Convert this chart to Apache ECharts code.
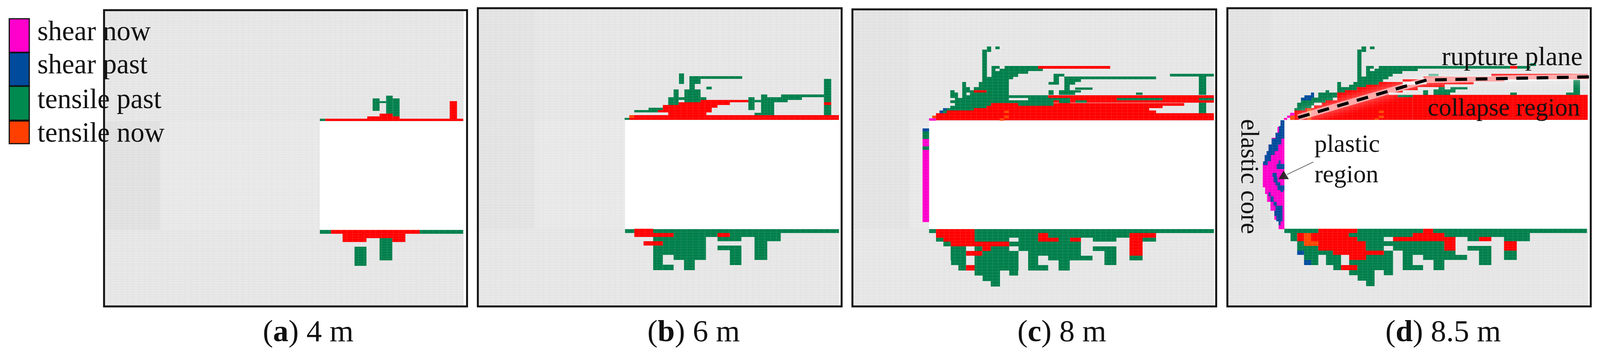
<!DOCTYPE html>
<html>
<head>
<meta charset="utf-8">
<title>failure zones</title>
<style>
  html, body { margin: 0; padding: 0; background: #fff; overflow: hidden; }
  #chart { width: 100%; height: 912px; }
</style>
<script src="https://cdn.jsdelivr.net/npm/echarts@6/dist/echarts.min.js"></script>
</head>
<body>
<div id="chart"></div>
<script>
// every rect is [x0, x1, y0, y1] on the sheet scale used by the axes below
const legendNames = ['shear now', 'shear past', 'tensile past', 'tensile now']
const captions = [['a', '4 m'], ['b', '6 m'], ['c', '8 m'], ['d', '8.5 m']]

// (a) 4 m
const aOpening = [[830, 1212, 311, 589], [1203, 1212, 26, 785]]
const aCoal = [[272, 416, 311, 589]]
const aRoof = [[416, 830, 311, 589]]
const aTensilePast = [
  [967, 985, 252, 284], [985, 1002, 259, 264], [1002, 1019, 245, 291], [1019, 1037, 252, 298],
  [830, 844, 304, 310],
  [830, 859, 589, 599], [1089, 1202, 589, 599], [985, 1018, 610, 667], [920, 951, 632, 681]
]
const aTensileNow = [
  [844, 1202, 304, 310], [953, 985, 298, 304], [985, 1019, 291, 304], [1019, 1037, 298, 304],
  [1167, 1186, 259, 304],
  [859, 1089, 589, 599], [889, 1052, 599, 610], [889, 951, 610, 620], [1018, 1052, 610, 620]
]

// (b) 6 m
const bOpening = [[1622, 2184, 308, 586], [2177, 2184, 21, 785]]
const bCoal = [[1243, 1388, 21, 586]]
const bRoof = [[1388, 1622, 308, 586]]
const bTensilePast = [
  [1762, 1775, 188, 215], [1789, 1818, 195, 215], [1818, 1926, 195, 202], [1789, 1803, 215, 229],
  [1833, 1847, 222, 229], [1776, 1818, 229, 262], [1748, 1761, 229, 269], [1734, 1748, 249, 269],
  [1761, 1776, 249, 256], [1818, 1833, 249, 256], [1683, 1720, 276, 282], [1646, 1707, 282, 288],
  [1621, 1633, 302, 307], [1942, 1958, 249, 282], [1958, 1975, 256, 262], [1975, 1991, 242, 295],
  [1991, 2009, 249, 295], [1958, 1975, 289, 295], [2009, 2044, 249, 262], [2027, 2081, 242, 256],
  [2081, 2138, 242, 249], [2138, 2157, 202, 262], [2138, 2157, 269, 295],
  [1622, 1646, 587, 597], [1695, 2177, 587, 597], [1748, 1862, 597, 607], [1894, 2026, 597, 607],
  [1695, 1832, 607, 618], [1862, 1924, 607, 618], [1958, 2026, 607, 618], [1720, 1832, 618, 629],
  [1695, 1832, 629, 653], [1748, 1832, 653, 666], [1695, 1720, 653, 692], [1720, 1748, 678, 692],
  [1775, 1803, 666, 692], [1862, 1924, 629, 641], [1894, 1924, 641, 679], [1958, 1991, 618, 666]
]
const bTensileNow = [
  [2138, 2157, 262, 269], [1633, 2177, 295, 307], [1734, 1833, 288, 295], [1707, 1847, 282, 288],
  [1720, 1862, 269, 276], [1720, 1847, 276, 282], [1761, 1894, 262, 269], [1818, 1942, 256, 262],
  [1646, 1695, 586, 607], [1695, 1748, 597, 607], [1862, 1894, 597, 607], [1670, 1720, 618, 629]
]
const bTensileNowOld = [[1633, 1646, 295, 302]]

// (c) 8 m
const cOpening = [[2411, 3156, 310, 586], [3150, 3156, 24, 785]]
const cCoal = [[2214, 2361, 24, 586]]
const cRoof = [[2361, 2411, 310, 586]]
const cShearNow = [[2411, 2429, 303, 309], [2394, 2411, 356, 375], [2394, 2411, 384, 569]]
const cShearPast = [[2447, 2457, 277, 283], [2438, 2447, 283, 290], [2394, 2411, 329, 337]]
const cTensilePast = [
  [2583, 2594, 119, 126], [2561, 2572, 119, 133], [2549, 2561, 127, 197], [2573, 2594, 169, 176],
  [2573, 2583, 176, 182], [2594, 2706, 176, 182], [2607, 2694, 169, 176], [2573, 2668, 182, 189],
  [2573, 2642, 189, 197], [2549, 2629, 197, 203], [2549, 2618, 203, 210], [2540, 2618, 210, 223],
  [2527, 2618, 223, 231], [2497, 2507, 210, 223], [2497, 2517, 223, 231], [2497, 2527, 231, 237],
  [2560, 2618, 231, 237], [2466, 2477, 231, 237], [2466, 2486, 237, 244], [2497, 2508, 237, 244],
  [2517, 2618, 237, 244], [2466, 2486, 244, 251], [2497, 2720, 244, 251], [2478, 2618, 251, 257],
  [2668, 2777, 251, 257], [2466, 2734, 257, 264], [2748, 2777, 257, 264], [2478, 2572, 264, 271],
  [2642, 2734, 264, 271], [2466, 2560, 271, 277], [2457, 2527, 277, 283], [2447, 2457, 283, 290],
  [2734, 2762, 189, 196], [2734, 2748, 196, 210], [2721, 2748, 210, 217], [2762, 3000, 196, 203],
  [2762, 2805, 203, 210], [2762, 2790, 210, 217], [2762, 2776, 217, 231], [2790, 2835, 224, 230],
  [2748, 2805, 231, 237], [2748, 2790, 237, 243], [2721, 2734, 231, 243], [2948, 2965, 237, 243],
  [3036, 3150, 189, 196], [3111, 3130, 196, 243], [3111, 3130, 263, 290], [2898, 3017, 251, 257],
  [3111, 3150, 251, 257], [2791, 2820, 257, 263], [2394, 2411, 337, 356], [2394, 2411, 375, 384],
  [2411, 2429, 587, 597], [2529, 3150, 587, 597],
  [2529, 2694, 597, 609], [2720, 2931, 597, 609],
  [2429, 2448, 609, 619], [2529, 2619, 609, 619], [2643, 2694, 609, 619], [2747, 2777, 609, 619],
  [2836, 2897, 609, 619], [2965, 3000, 609, 619],
  [2448, 2467, 619, 631], [2619, 2805, 619, 631],
  [2467, 2507, 631, 643], [2529, 2549, 631, 643], [2571, 2619, 631, 643], [2643, 2805, 631, 643],
  [2836, 2897, 631, 643],
  [2467, 2507, 643, 655], [2549, 2643, 643, 655], [2668, 2805, 643, 655], [2866, 2897, 643, 655],
  [2467, 2507, 655, 667], [2529, 2643, 655, 667], [2668, 2694, 655, 667], [2720, 2835, 655, 667],
  [2866, 2897, 655, 667], [2931, 2965, 655, 667],
  [2468, 2507, 667, 679], [2529, 2643, 667, 679], [2668, 2694, 667, 679], [2747, 2776, 667, 679],
  [2866, 2897, 667, 679],
  [2487, 2507, 679, 693], [2529, 2643, 679, 693], [2668, 2720, 679, 693], [2747, 2776, 679, 693],
  [2529, 2595, 693, 706], [2619, 2642, 693, 706], [2550, 2595, 706, 720], [2571, 2595, 720, 734]
]
const cTensileNow = [
  [2694, 2881, 169, 176], [2527, 2560, 231, 237], [2720, 3150, 244, 251], [2777, 2898, 251, 257],
  [3017, 3111, 251, 257], [2734, 2748, 257, 263], [2777, 2791, 257, 263], [2820, 3150, 257, 263],
  [2572, 2642, 264, 271], [2734, 3073, 264, 271], [2560, 3017, 271, 277], [2527, 2982, 277, 283],
  [2457, 3000, 283, 290], [2429, 3150, 290, 308],
  [2429, 2529, 587, 597], [2429, 2529, 597, 609], [2694, 2720, 597, 609], [2931, 3000, 597, 609],
  [2448, 2529, 609, 619], [2694, 2747, 609, 619], [2777, 2805, 609, 619], [2931, 2965, 609, 619],
  [2467, 2619, 619, 631], [2931, 2965, 619, 631], [2549, 2571, 631, 643], [2931, 2965, 631, 643],
  [2507, 2549, 643, 655], [2931, 2965, 643, 655], [2507, 2529, 679, 693]
]
const cTensileNowOld = [[2419, 2429, 296, 303], [2606, 2618, 283, 290], [2606, 2618, 296, 303], [2594, 2606, 303, 309]]

// (d) 8.5 m
const dOpening = [[3332, 4128, 308, 586], [4121, 4128, 21, 785]]
const dCoal = [[3188, 3300, 21, 586]]
const dRoof = [[3300, 3332, 308, 586]]
const dShearNow = [
  [3348, 3359, 289, 296], [3340, 3348, 296, 302], [3332, 3340, 302, 307],
  [3323, 3333, 308, 325], [3315, 3333, 325, 340], [3310, 3333, 340, 353], [3300, 3333, 353, 370],
  [3292, 3333, 370, 387], [3287, 3333, 387, 397], [3282, 3333, 397, 417], [3277, 3333, 417, 480],
  [3283, 3333, 480, 497], [3288, 3333, 497, 517], [3297, 3333, 517, 540], [3307, 3333, 540, 563],
  [3318, 3333, 563, 587]
]
const dShearPast = [
  [3402, 3410, 237, 244], [3385, 3410, 244, 250], [3376, 3403, 250, 257],
  [3323, 3333, 308, 323], [3319, 3333, 323, 340], [3310, 3333, 340, 355], [3300, 3325, 355, 370],
  [3292, 3317, 370, 387], [3287, 3308, 387, 397], [3282, 3298, 397, 413], [3278, 3290, 413, 423],
  [3318, 3323, 411, 420], [3313, 3333, 420, 433], [3302, 3313, 443, 453], [3305, 3315, 453, 467],
  [3310, 3322, 467, 475], [3315, 3333, 475, 487], [3323, 3330, 487, 492], [3292, 3297, 493, 503],
  [3297, 3305, 503, 517], [3305, 3313, 517, 527], [3310, 3328, 527, 547], [3307, 3328, 540, 553],
  [3312, 3328, 553, 567], [3318, 3323, 567, 577],
  [3366, 3384, 642, 653], [3384, 3402, 666, 679]
]
const dTensilePast = [
  [3555, 3567, 119, 126], [3533, 3545, 119, 133], [3522, 3533, 127, 197], [3545, 3565, 169, 176],
  [3578, 3919, 169, 176], [3937, 3971, 169, 176], [3971, 3986, 162, 169], [3545, 3555, 176, 182],
  [3567, 3679, 176, 182], [3545, 3639, 182, 189], [3545, 3614, 189, 196], [3522, 3603, 196, 203],
  [3522, 3589, 203, 210], [3470, 3480, 210, 223], [3512, 3578, 210, 217], [3501, 3545, 217, 223],
  [3470, 3521, 223, 231], [3440, 3449, 231, 237], [3470, 3490, 231, 237], [3421, 3470, 237, 250],
  [3403, 3459, 250, 257], [3376, 3440, 257, 263], [3366, 3410, 263, 270], [3366, 3403, 270, 277],
  [3359, 3387, 277, 283], [3764, 3808, 223, 229], [3733, 3749, 223, 229], [3720, 3777, 229, 237],
  [3693, 3706, 231, 243], [3720, 3763, 237, 243], [3919, 3936, 237, 243], [4064, 4100, 237, 243],
  [4083, 4100, 204, 237], [3627, 3666, 243, 249],
  [3333, 3421, 586, 597], [3522, 3693, 586, 597], [3719, 4118, 586, 597],
  [3349, 3366, 597, 607], [3500, 3666, 597, 607], [3748, 3970, 597, 607],
  [3349, 3366, 607, 618], [3522, 3591, 607, 618], [3808, 3838, 607, 618], [3903, 3970, 607, 618],
  [3366, 3384, 618, 630], [3544, 3748, 618, 630],
  [3366, 3421, 630, 642], [3544, 3591, 630, 642], [3615, 3748, 630, 642], [3808, 3870, 630, 642],
  [3384, 3459, 642, 653], [3591, 3615, 642, 653], [3640, 3777, 642, 653], [3838, 3870, 642, 653],
  [3903, 3936, 642, 653],
  [3384, 3421, 653, 666], [3441, 3480, 653, 666], [3545, 3615, 653, 666], [3640, 3666, 653, 666],
  [3693, 3807, 653, 666], [3838, 3870, 653, 666], [3903, 3936, 653, 666],
  [3402, 3421, 666, 679], [3441, 3480, 666, 679], [3501, 3615, 666, 679], [3640, 3666, 666, 679],
  [3720, 3748, 666, 679], [3838, 3870, 666, 679],
  [3460, 3480, 679, 692], [3522, 3615, 679, 692], [3640, 3693, 679, 692], [3720, 3748, 679, 692],
  [3501, 3567, 692, 705], [3591, 3615, 692, 705], [3523, 3567, 705, 719], [3545, 3567, 719, 733]
]
const dTensileNow = [
  [3919, 3937, 169, 176], [3870, 4121, 189, 196], [3694, 4121, 196, 203], [3640, 3904, 203, 209],
  [3702, 3824, 209, 216], [3679, 3749, 216, 223], [3578, 3640, 210, 217], [3545, 3679, 217, 223],
  [3521, 3679, 223, 231], [3490, 3640, 231, 237], [3470, 3604, 237, 243], [3470, 3627, 243, 257],
  [3627, 3666, 249, 257], [3440, 3666, 257, 263], [3430, 3666, 263, 270], [3410, 3666, 270, 277],
  [3387, 3666, 277, 283], [3359, 3666, 283, 307], [3666, 4120, 243, 307],
  [3421, 3522, 586, 597], [3693, 3719, 586, 597],
  [3366, 3384, 597, 607], [3402, 3500, 597, 607], [3666, 3748, 597, 607],
  [3366, 3384, 607, 618], [3402, 3522, 607, 618], [3615, 3777, 607, 618], [3838, 3870, 607, 618],
  [3421, 3544, 618, 630], [3748, 3777, 618, 630], [3903, 3936, 618, 630],
  [3421, 3544, 630, 642], [3748, 3777, 630, 642], [3903, 3936, 630, 642],
  [3459, 3591, 642, 653], [3501, 3545, 653, 666], [3480, 3522, 679, 692]
]
const dTensileNowOld = [
  [3384, 3402, 597, 618], [3384, 3421, 618, 630], [3392, 3403, 277, 307], [3348, 3359, 296, 307],
  [3578, 3591, 283, 290], [3578, 3591, 296, 303], [3567, 3578, 303, 307]
]
const dFaded = [[3707, 3733, 189, 195]]
const ruptureX = [3369, 3702, 4126]
const ruptureY = [301, 205, 197]
const pointerX = [3408, 3340]
const pointerY = [415, 447]

const C_SHEAR_NOW = '#ff00cc'
const C_SHEAR_PAST = '#004b9c'
const C_TENSILE_PAST = '#007f4b'
const C_TENSILE_NOW = '#ff0000'
const C_TENSILE_OLD = '#ff4500'
const SERIF = '"Liberation Serif", "Times New Roman", serif'

// the browser may cap the window below 4152, so the sheet is fitted to what it really gives
const sx = document.getElementById('chart').clientWidth / 4152

const panels = [
  { left: 270, top: 26, width: 942, height: 759, stepX: 15, stepY: 6.5 },
  { left: 1240, top: 21, width: 944, height: 764, stepX: 15.5, stepY: 7 },
  { left: 2212, top: 24, width: 944, height: 761, stepX: 14, stepY: 8 },
  { left: 3185, top: 21, width: 943, height: 764, stepX: 13, stepY: 7 }
]

const grid = panels.map(p => ({
  left: p.left * sx,
  top: p.top,
  width: p.width * sx,
  height: p.height,
  show: true,
  backgroundColor: '#e8e8e8',
  borderWidth: 0
}))

const hidden = { axisLine: { show: false }, axisTick: { show: false }, axisLabel: { show: false } }
const xAxis = panels.map((p, i) => ({
  type: 'value',
  gridIndex: i,
  min: p.left,
  max: p.left + p.width,
  interval: p.stepX,
  ...hidden,
  splitLine: { show: true, lineStyle: { color: '#e0e0e0', width: 1 } }
}))
const yAxis = panels.map((p, i) => ({
  type: 'value',
  gridIndex: i,
  inverse: true,
  min: p.top,
  max: p.top + p.height,
  interval: p.stepY,
  ...hidden,
  splitLine: { show: true, lineStyle: { color: '#e0e0e0', width: 1 } }
}))

// one custom series per state, the mesh is drawn faintly over the coloured zones
function zones(name, rows, color, i, meshed) {
  const p = panels[i]
  return {
    name: name,
    type: 'custom',
    xAxisIndex: i,
    yAxisIndex: i,
    silent: true,
    animation: false,
    encode: { x: [0, 1], y: [2, 3] },
    data: rows,
    renderItem: function (params, api) {
      const x0 = api.value(0), x1 = api.value(1), y0 = api.value(2), y1 = api.value(3)
      const a = api.coord([x0, y0])
      const b = api.coord([x1, y1])
      const children = [{
        type: 'rect',
        shape: { x: a[0], y: a[1], width: b[0] - a[0], height: b[1] - a[1] },
        style: { fill: color }
      }]
      if (meshed) {
        const lineStyle = { stroke: 'rgba(255,255,255,0.13)', lineWidth: 1 }
        for (let k = Math.ceil(x0 / p.stepX) * p.stepX; k < x1; k += p.stepX) {
          const c = api.coord([k, y0])[0]
          children.push({ type: 'line', shape: { x1: c, y1: a[1], x2: c, y2: b[1] }, style: lineStyle })
        }
        for (let k = Math.ceil(y0 / p.stepY) * p.stepY; k < y1; k += p.stepY) {
          const c = api.coord([x0, k])[1]
          children.push({ type: 'line', shape: { x1: a[0], y1: c, x2: b[0], y2: c }, style: lineStyle })
        }
      }
      return { type: 'group', children: children }
    }
  }
}

const series = [
  zones('coal', aCoal, 'rgba(0,0,0,0.018)', 0), zones('roof', aRoof, 'rgba(255,255,255,0.12)', 0), zones('opening', aOpening, '#fff', 0),
  zones('coal', bCoal, 'rgba(0,0,0,0.012)', 1), zones('roof', bRoof, 'rgba(255,255,255,0.12)', 1), zones('opening', bOpening, '#fff', 1),
  zones('coal', cCoal, 'rgba(0,0,0,0.012)', 2), zones('roof', cRoof, 'rgba(255,255,255,0.12)', 2), zones('opening', cOpening, '#fff', 2),
  zones('coal', dCoal, 'rgba(0,0,0,0.012)', 3), zones('roof', dRoof, 'rgba(255,255,255,0.12)', 3), zones('opening', dOpening, '#fff', 3),

  zones('tensile past', aTensilePast, C_TENSILE_PAST, 0, true),
  zones('tensile now', aTensileNow, C_TENSILE_NOW, 0, true),

  zones('tensile past', bTensilePast, C_TENSILE_PAST, 1, true),
  zones('tensile now', bTensileNow, C_TENSILE_NOW, 1, true),
  zones('tensile now', bTensileNowOld, C_TENSILE_OLD, 1, true),

  zones('tensile past', cTensilePast, C_TENSILE_PAST, 2, true),
  zones('tensile now', cTensileNow, C_TENSILE_NOW, 2, true),
  zones('tensile now', cTensileNowOld, C_TENSILE_OLD, 2, true),
  zones('shear now', cShearNow, C_SHEAR_NOW, 2, true),
  zones('shear past', cShearPast, C_SHEAR_PAST, 2, true),

  zones('tensile past', dTensilePast, C_TENSILE_PAST, 3, true),
  zones('tensile now', dTensileNow, C_TENSILE_NOW, 3, true),
  zones('tensile now', dTensileNowOld, C_TENSILE_OLD, 3, true),
  zones('faded', dFaded, '#62b596', 3),
  zones('shear now', dShearNow, C_SHEAR_NOW, 3, true),
  zones('shear past', dShearPast, C_SHEAR_PAST, 3, true),

  // soft halo round the rupture plane, then the dashes
  {
    type: 'line', xAxisIndex: 3, yAxisIndex: 3, silent: true, animation: false, showSymbol: false,
    data: ruptureX.map((x, k) => [x, ruptureY[k]]),
    lineStyle: { color: '#ffffff', width: 16, opacity: 0.55, shadowBlur: 26, shadowColor: '#ffffff' }
  },
  {
    type: 'line', xAxisIndex: 3, yAxisIndex: 3, silent: true, animation: false, showSymbol: false,
    data: ruptureX.map((x, k) => [x, ruptureY[k]]),
    lineStyle: { color: '#000000', width: 8, type: [30, 22] }
  },
  {
    type: 'line', xAxisIndex: 3, yAxisIndex: 3, silent: true, animation: false, showSymbol: false,
    data: pointerX.map((x, k) => [x, pointerY[k]]),
    lineStyle: { color: '#777777', width: 2 }
  },
  {
    type: 'scatter', xAxisIndex: 3, yAxisIndex: 3, silent: true, animation: false,
    data: [[3331, 448]],
    symbol: 'triangle',
    symbolSize: [27, 22],
    itemStyle: { color: '#222222', opacity: 0.92 }
  }
]

// legend swatches are not the same height in the figure, so no stock legend here
const swatches = [[48, 134, C_SHEAR_NOW], [135, 220, C_SHEAR_PAST], [221, 308, '#008a50'], [310, 368, '#ff3f00']]
const legendBaselines = [104, 189, 278, 364]
const graphic = []

function label(text, x, baseline, size) {
  return {
    type: 'text',
    z: 100,
    x: x * sx,
    y: baseline - size * 0.27,
    style: { text: text, font: size * sx + 'px ' + SERIF, fill: '#111', verticalAlign: 'middle', align: 'left' }
  }
}

// frames go on top, the splitLines would break them up otherwise
panels.forEach(p => {
  graphic.push({
    type: 'rect',
    z: 90,
    shape: { x: p.left * sx, y: p.top, width: p.width * sx, height: p.height },
    style: { fill: 'none', stroke: '#141414', lineWidth: 5 }
  })
})

swatches.forEach((s, i) => {
  graphic.push({
    type: 'rect',
    z: 100,
    shape: { x: 24 * sx, y: s[0], width: 52 * sx, height: s[1] - s[0] },
    style: { fill: s[2], stroke: '#111', lineWidth: 3 }
  })
  graphic.push(label(legendNames[i], 97, legendBaselines[i], 72))
})

const captionLeft = [682, 1680, 2640, 3595]
captions.forEach((c, i) => {
  const t = label('({b|' + c[0] + '}) ' + c[1], captionLeft[i], 875, 80)
  t.style.rich = { b: { font: 'bold ' + 80 * sx + 'px ' + SERIF, fill: '#111' } }
  graphic.push(t)
})

graphic.push(label('rupture plane', 3741, 168, 69))
graphic.push(label('collapse region', 3705, 297, 65))
graphic.push(label('plastic', 3411, 390, 65))
graphic.push(label('region', 3411, 468, 65))
// reads top to bottom along the left of the heading
graphic.push({
  type: 'text',
  z: 100,
  x: 3239 * sx,
  y: 305,
  rotation: -Math.PI / 2,
  style: { text: 'elastic core', font: 66 * sx + 'px ' + SERIF, fill: '#111', verticalAlign: 'middle', align: 'left' }
})

const chart = echarts.init(document.getElementById('chart'), null, { renderer: 'canvas' })
chart.setOption({
  animation: false,
  backgroundColor: '#ffffff',
  grid: grid,
  xAxis: xAxis,
  yAxis: yAxis,
  series: series,
  graphic: graphic
})
</script>
</body>
</html>
